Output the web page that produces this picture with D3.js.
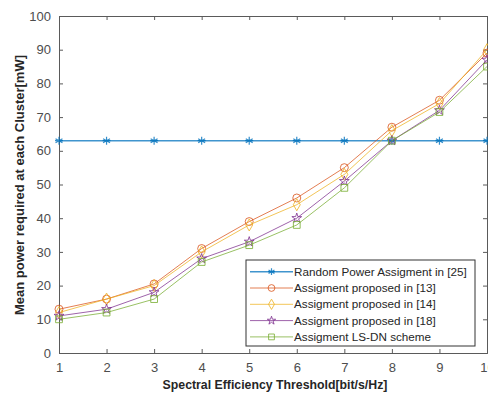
<!DOCTYPE html>
<html>
<head>
<meta charset="utf-8">
<script src="https://cdn.jsdelivr.net/npm/d3@7"></script>
<style>
  body { margin: 0; background: #fff; }
  svg { display: block; font-family: "Liberation Sans", Arial, sans-serif; }
</style>
</head>
<body>
<div id="chart"></div>
<script>
const xValues = [1, 2, 3, 4, 5, 6, 7, 8, 9, 10];
const randomPower = [63, 63, 63, 63, 63, 63, 63, 63, 63, 63];
const proposed13 = [13, 16, 20.5, 31, 39, 46, 55, 67, 75, 89];
const proposed14 = [12, 16, 20, 30, 38, 44, 53, 66, 74, 90];
const proposed18 = [11, 13, 18, 28, 33, 40, 51, 63, 72, 87];
const lsdn = [10, 12, 16, 27, 32, 38, 49, 63, 71.5, 85];
const yTicks = [0, 10, 20, 30, 40, 50, 60, 70, 80, 90, 100];
const seriesNames = ["Random Power Assigment in [25]", "Assigment proposed in [13]",
                     "Assigment proposed in [14]", "Assigment proposed in [18]",
                     "Assigment LS-DN scheme"];

const series = [
  {name: seriesNames[0], values: randomPower, color: "#0072BD", marker: "star6", width: 1.5},
  {name: seriesNames[1], values: proposed13, color: "#D95319", marker: "circle", width: 1},
  {name: seriesNames[2], values: proposed14, color: "#EDB120", marker: "diamond", width: 1},
  {name: seriesNames[3], values: proposed18, color: "#7E2F8E", marker: "star", width: 1},
  {name: seriesNames[4], values: lsdn, color: "#77AC30", marker: "square", width: 1}
];

const W = 488, H = 397;
const margin = {top: 16, right: 1, bottom: 44, left: 59};
const width = 487 - margin.left;
const height = 353 - margin.top;
const axisColor = "#5a5a5a";
const textColor = "#4d4d4d";

const svg = d3.select("#chart").append("svg")
  .attr("width", W).attr("height", H);
const g = svg.append("g").attr("transform", `translate(${margin.left}, ${margin.top})`);

const xScale = d3.scaleLinear().domain([1, 10]).range([0, width]);
const yScale = d3.scaleLinear().domain([0, 100]).range([height, 0]);

// axes (box with inward ticks)
g.append("g")
  .attr("transform", `translate(0, ${height})`)
  .call(d3.axisBottom(xScale).tickValues(xValues).tickSize(-4).tickPadding(10).tickFormat(d3.format("d")))
  .call(a => {
    a.select(".domain").attr("stroke", axisColor);
    a.selectAll("line").attr("stroke", axisColor);
    a.selectAll("text").attr("fill", textColor).style("font-size", "13px");
  });

g.append("g")
  .call(d3.axisTop(xScale).tickValues(xValues).tickSize(-4).tickFormat(""))
  .call(a => {
    a.select(".domain").attr("stroke", axisColor);
    a.selectAll("line").attr("stroke", axisColor);
  });

g.append("g")
  .call(d3.axisLeft(yScale).tickValues(yTicks).tickSize(-4).tickPadding(8))
  .call(a => {
    a.select(".domain").attr("stroke", axisColor);
    a.selectAll("line").attr("stroke", axisColor);
    a.selectAll("text").attr("fill", textColor).style("font-size", "13px");
  });

g.append("g")
  .attr("transform", `translate(${width}, 0)`)
  .call(d3.axisRight(yScale).tickValues(yTicks).tickSize(-4).tickFormat(""))
  .call(a => {
    a.select(".domain").attr("stroke", axisColor);
    a.selectAll("line").attr("stroke", axisColor);
  });

// markers
function drawMarker(sel, s, k) {
  if (s.marker === "star6") {
    const r = 4 * k;
    sel.append("path")
      .attr("d", [0, 60, 120].map(a => {
        const rad = a * Math.PI / 180;
        const dx = r * Math.sin(rad), dy = r * Math.cos(rad);
        return `M${-dx},${-dy}L${dx},${dy}`;
      }).join("") + `M${-r},0L${r},0`)
      .attr("stroke", s.color).attr("stroke-width", 1.2).attr("fill", "none");
  } else {
    const types = {circle: [d3.symbolCircle, 50], square: [d3.symbolSquare, 46],
                   diamond: [d3.symbolDiamond, 42], star: [d3.symbolStar, 30]};
    const t = types[s.marker];
    sel.append("path")
      .attr("d", d3.symbol(t[0], t[1] * k * k)())
      .attr("fill", "none").attr("stroke", s.color).attr("stroke-width", 1);
  }
}

const line = d3.line().x((d, i) => xScale(xValues[i])).y(d => yScale(d));

series.forEach(s => {
  g.append("path")
    .datum(s.values)
    .attr("fill", "none")
    .attr("stroke", s.color)
    .attr("stroke-opacity", 0.75)
    .attr("stroke-width", s.width)
    .attr("d", line);
  g.append("g").selectAll("g")
    .data(s.values)
    .join("g")
    .attr("transform", (d, i) => `translate(${xScale(xValues[i])}, ${yScale(d)})`)
    .attr("opacity", 0.8)
    .each(function() { drawMarker(d3.select(this), s, 1); });
});

// axis labels
svg.append("text")
  .attr("x", 275).attr("y", 389)
  .attr("text-anchor", "middle")
  .style("font-size", "12.3px").style("font-weight", "bold")
  .attr("fill", "#262626")
  .text("Spectral Efficiency Threshold[bit/s/Hz]");

svg.append("text")
  .attr("transform", `translate(24, 185) rotate(-90)`)
  .attr("text-anchor", "middle")
  .style("font-size", "13px").style("font-weight", "bold")
  .attr("fill", "#262626")
  .text("Mean power required at each Cluster[mW]");

// legend
const legend = svg.append("g").attr("transform", "translate(246, 260)");
legend.append("rect")
  .attr("width", 229).attr("height", 86)
  .attr("fill", "#fff").attr("stroke", "#333").attr("stroke-width", 1);

series.forEach((s, i) => {
  const row = legend.append("g").attr("transform", `translate(0, ${11.7 + i * 16.3})`);
  row.append("line")
    .attr("x1", 4).attr("x2", 47)
    .attr("stroke", s.color).attr("stroke-opacity", 0.75).attr("stroke-width", s.width);
  const m = row.append("g").attr("transform", "translate(25.5, 0)").attr("opacity", 0.8);
  drawMarker(m, s, 0.85);
  row.append("text")
    .attr("x", 48).attr("y", 0).attr("dy", "0.35em")
    .style("font-size", "11.7px").attr("fill", "#262626")
    .text(s.name);
});
</script>
</body>
</html>
